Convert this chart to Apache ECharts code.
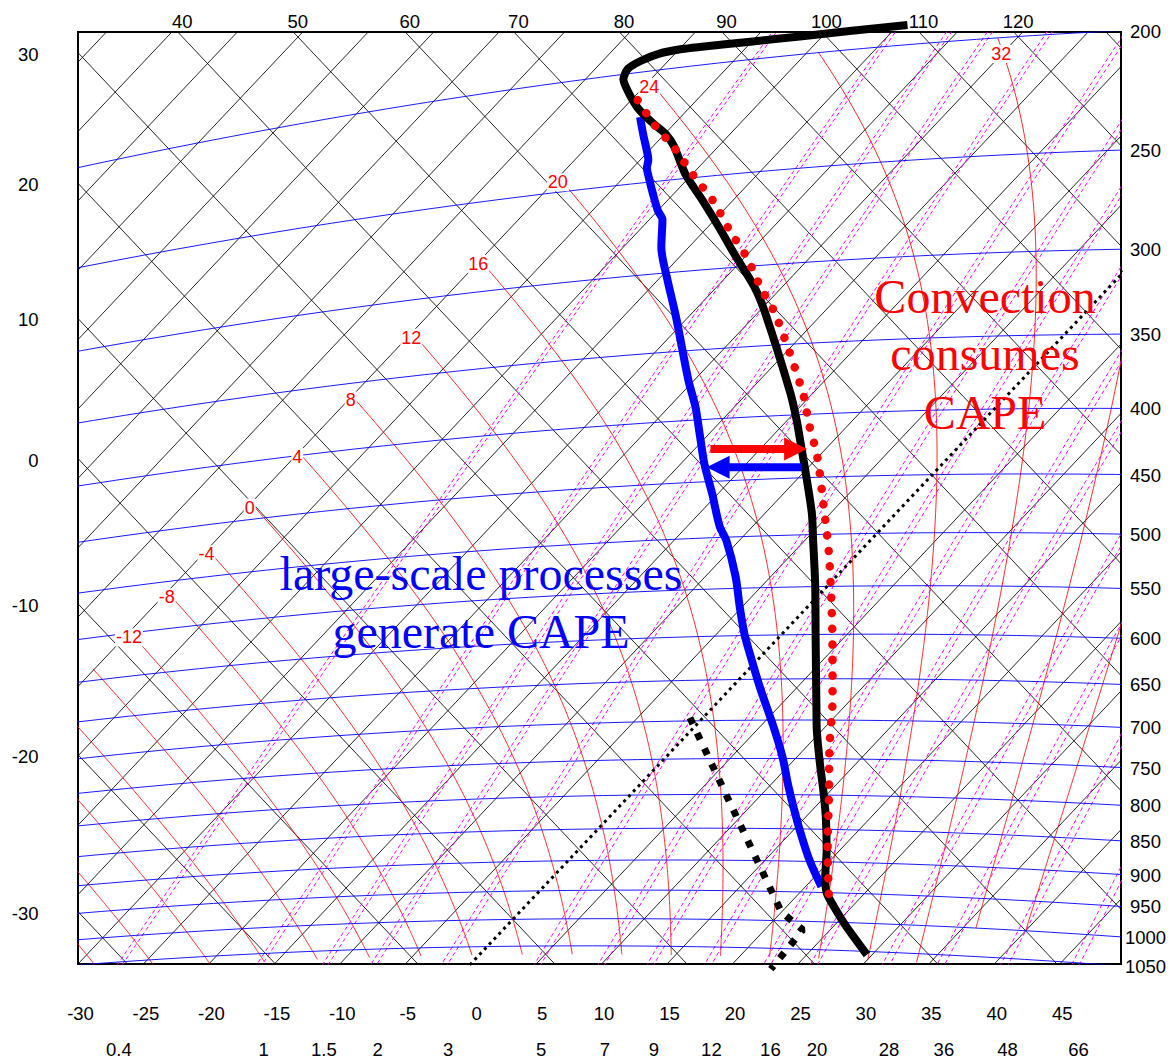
<!DOCTYPE html>
<html>
<head>
<meta charset="utf-8">
<title>Tephigram - CAPE</title>
<script src="https://cdn.jsdelivr.net/npm/echarts@6.0.0/dist/echarts.min.js"></script>
<style>
html,body{margin:0;padding:0;background:#ffffff;}
#chart{width:1172px;height:1060px;}
</style>
</head>
<body>
<div id="chart"></div>
<script>
// ===================== DATA =====================
// tephigram grid levels
const isothermLevels = [-100,-95,-90,-85,-80,-75,-70,-65,-60,-55,-50,-45,-40,-35,-30,-25,-20,-15,-10,-5,5,10,15,20,25,30,35,40,45,50]; // °C (0 °C drawn dotted)
const adiabatLevels = [-40,-30,-20,-10,0,10,20,30,40,50,60,70,80,90,100,110,120,130,140]; // potential temperature °C
const isobarLevels = [200,250,300,350,400,450,500,550,600,650,700,750,800,850,900,950,1000,1050]; // hPa
const mixingRatioLevels = [0.4,1,1.5,2,3,5,7,9,12,16,20,28,36,48,66]; // g/kg
const moistAdiabatLevels = [-40,-36,-32,-28,-24,-20,-16,-12,-8,-4,0,4,8,12,16,20,24,28,32,36,40]; // wet-bulb potential temperature °C

// tick labels
const leftThetaLabels = [-30,-20,-10,0,10,20,30];
const topThetaLabels = [40,50,60,70,80,90,100,110,120];
const bottomTempLabels = [-30,-25,-20,-15,-10,-5,0,5,10,15,20,25,30,35,40,45];
const pressureLabels = [200,250,300,350,400,450,500,550,600,650,700,750,800,850,900,950,1000,1050];
const mixingRatioLabels = [0.4,1,1.5,2,3,5,7,9,12,16,20,28,36,48,66];
const moistAdiabatLabels = [-12,-8,-4,0,4,8,12,16,20,24,32];

// sounding: environmental temperature (thick black)
const envP = [1056,1007,973,951,924,882,831,793,756,713,684,606,547,505,481,449,425,404,384,329,312,294,277,262,248,234,228,222,215,208,202,198,195.5,193.5,192.8,192.8,193,193,192.8,192.5];
const envT = [29.6,26.0,23.6,22.1,20.8,19.0,16.5,14.4,12.2,9.6,7.9,3.0,-1.1,-4.4,-6.4,-9.5,-12.0,-14.3,-16.7,-24.4,-27.2,-30.7,-34.1,-37.3,-40.5,-43.4,-44.9,-46.8,-48.9,-50.7,-52.1,-52.5,-52.1,-51.2,-49.8,-48.6,-45.1,-41.7,-38.3,-34.3];
// sounding: thick blue curve
const dewP = [940,898,852,817,784,748,708,659,616,598,569,538,503,490,460,435,411,390,370,327,304,285,270,265,256,247,243,239,235,227,219];
const dewT = [21.2,18.4,15.5,13.3,11.2,8.9,6.0,2.1,-1.4,-2.9,-5.2,-7.7,-11.0,-12.5,-15.5,-18.2,-20.7,-23.0,-25.5,-31.0,-34.3,-37.1,-39.0,-40.0,-41.6,-43.2,-43.9,-44.4,-45.1,-46.6,-48.1];
// red dotted parcel curve
const parcelP = [952,874,802,735,675,617,565,517,473,433,408,384,331,313,295,279,263,249,235,223,210];
const parcelT = [22.3,18.7,15.3,11.8,8.6,5.0,1.4,-2.3,-6.2,-10.1,-13.0,-15.8,-23.4,-26.6,-29.8,-33.1,-36.4,-39.8,-43.2,-46.5,-49.9];
// black square-dotted curve
const downP = [696,985,1015,1089];
const downT = [-1.0,20.0,22.9,23.3];
// dotted 0 °C isotherm
const zeroIsoP = [1200,250];
const zeroIsoT = [0,0];
// arrows (tail -> head)
const redArrowP = [423.3,426.3];
const redArrowT = [-18.8,-12.3];
const blueArrowP = [441.3,438.4];
const blueArrowT = [-10.5,-16.9];
// annotations
const convectionText = ['Convection','consumes','CAPE'];
const largeScaleText = ['large-scale processes','generate CAPE'];

// ===================== LAYOUT / TRANSFORM =====================
const SANS = '"Liberation Sans", Arial, Helvetica, sans-serif';
const SERIF = '"Liberation Serif", "Times New Roman", Times, serif';
const K = 280.7, KAPPA = 0.286;
const X_MIN = -66.43, X_MAX = 92.93, Y_MIN = -6.43, Y_MAX = 127.91;
const MR_PAIR = 1.035;

function tephi(T, p) {
  const th = (T + 273.15) * Math.pow(1000 / p, KAPPA);
  const L = K * Math.log(th / 273.15);
  return [T + L, L - T];
}
function tephiTh(T, thC) {
  const L = K * Math.log((thC + 273.15) / 273.15);
  return [T + L, L - T];
}
function esat(T) { return 6.112 * Math.exp(17.67 * T / (T + 243.5)); }
function tFromE(e) { const l = Math.log(e / 6.112); return 243.5 * l / (17.67 - l); }
function tMix(w, p) { return tFromE(p * w / (622 + w)); }
function dTdp(Tk, p) {
  const Rd = 287.04, Cp = 1005.7, Lv = 2.501e6, eps = 0.622;
  const rs = eps * esat(Tk - 273.15) / p;
  return (Rd * Tk + Lv * rs) / (Cp + Lv * Lv * rs * eps / (Rd * Tk * Tk)) / p;
}
function rk(Tk, p, h) {
  const k1 = dTdp(Tk, p), k2 = dTdp(Tk + h / 2 * k1, p + h / 2),
        k3 = dTdp(Tk + h / 2 * k2, p + h / 2), k4 = dTdp(Tk + h * k3, p + h);
  return Tk + h / 6 * (k1 + 2 * k2 + 2 * k3 + k4);
}
function moistLine(thw) {
  const pBottom = thw <= 34 ? 1065 : 1000;
  const up = [];
  let p = 1000, Tk = thw + 273.15;
  while (p > 200 && Tk > 223.15) { Tk = rk(Tk, p, -2); p -= 2; up.push([Tk, p]); }
  const down = [[thw + 273.15, 1000]];
  p = 1000; Tk = thw + 273.15;
  while (p < pBottom) { Tk = rk(Tk, p, 2); p += 2; down.push([Tk, p]); }
  return up.reverse().concat(down).map(a => tephi(a[0] - 273.15, a[1]));
}
function bisect(f, a, b) {
  let fa = f(a);
  for (let i = 0; i < 80; i++) {
    const m = (a + b) / 2, fm = f(m);
    if ((fm > 0) === (fa > 0)) { a = m; fa = fm; } else { b = m; }
  }
  return (a + b) / 2;
}

// ---- grid lines ----
const isoLines = isothermLevels.map(T => [tephiTh(T, -150), tephiTh(T, 260)]);
const adiLines = adiabatLevels.map(th => [tephiTh(-220, th), tephiTh(160, th)]);
const barLines = isobarLevels.map(p => { const a = []; for (let T = -140; T <= 70; T += 2) a.push(tephi(T, p)); return a; });
const mrLines = [];
mixingRatioLevels.forEach(w => {
  [w, w * MR_PAIR].forEach(ww => {
    const a = [];
    for (let p = 1150; p >= 100; p -= 10) a.push(tephi(tMix(ww, p), p));
    mrLines.push(a);
  });
});
const moistLines = moistAdiabatLevels.map(moistLine);

function polySeries(lines, lineStyle, z, clip, smooth) {
  const data = [];
  lines.forEach(l => { l.forEach(pt => data.push(pt)); data.push([NaN, NaN]); });
  return { type: 'line', data: data, symbol: 'none', showSymbol: false, silent: true, animation: false,
           z: z, clip: clip !== false, connectNulls: false, smooth: smooth || false, lineStyle: lineStyle };
}
function profile(P, T) { return P.map((p, i) => tephi(T[i], p)); }
function textSeries(items, style, z) {
  return {
    type: 'custom', coordinateSystem: 'cartesian2d', silent: true, animation: false, z: z, clip: false,
    data: items.map(it => [it.x, it.y]),
    renderItem: function (params, api) {
      const it = items[params.dataIndex];
      const pt = api.coord([it.x, it.y]);
      return { type: 'text', x: pt[0] + (it.dx || 0), y: pt[1] + (it.dy || 0),
               style: Object.assign({ text: it.text }, style) };
    }
  };
}

// ---- tick label positions ----
const leftItems = leftThetaLabels.map(th => {
  const L = K * Math.log((th + 273.15) / 273.15);
  return { x: X_MIN, y: 2 * L - X_MIN, text: String(th), dx: -39.5, dy: 1.5 };
});
const topItems = topThetaLabels.map(th => {
  const L = K * Math.log((th + 273.15) / 273.15);
  return { x: 2 * L - Y_MAX, y: Y_MAX, text: String(th), dx: 4.5, dy: -10.3 };
});
const bottomTItems = bottomTempLabels.map(T => {
  const s = String(T);
  return { x: 2 * T + Y_MIN, y: Y_MIN, text: s, dx: s.length === 1 ? 6 : 2.5, dy: 49.3 };
});
const rightItems = pressureLabels.map(p => {
  const T = bisect(t => tephi(t, p)[0] - X_MAX, -150, 100);
  const xy = tephi(T, p);
  return { x: xy[0], y: xy[1], text: String(p), dx: 24.5, dy: 0.5 };
});
const mrItems = mixingRatioLabels.map(w => {
  const p = bisect(pp => tephi(tMix(w, pp), pp)[1] - Y_MIN, 700, 1400);
  const xy = tephi(tMix(w, p), p);
  const s = String(w);
  return { x: xy[0], y: xy[1], text: s, dx: s.indexOf('.') >= 0 ? 1 : 6.5, dy: 85 };
});
const moistItems = [];
moistAdiabatLabels.forEach(v => {
  const line = moistLines[moistAdiabatLevels.indexOf(v)];
  const pt = line.find(q => q[1] <= Y_MAX - 1.75 && q[0] >= X_MIN + 1.5 && q[0] <= X_MAX);
  if (pt) moistItems.push({ x: pt[0], y: pt[1], text: String(v), dx: 0, dy: 6 });
});

const axisTextStyle = { fill: '#000', font: '18.5px ' + SANS, verticalAlign: 'middle' };

const series = [
  polySeries(isoLines, { color: '#000', width: 1, opacity: 0.85 }, 1),
  polySeries(adiLines, { color: '#000', width: 1, opacity: 0.85 }, 1),
  polySeries(moistLines, { color: '#ff0000', width: 1, opacity: 0.85 }, 1),
  polySeries(mrLines, { color: '#ff00ff', width: 1, type: [4, 3] }, 1),
  polySeries(barLines, { color: '#0000ff', width: 1, opacity: 0.9 }, 1),
  textSeries(leftItems, Object.assign({}, axisTextStyle, { align: 'right' }), 1),
  textSeries(topItems, Object.assign({}, axisTextStyle, { align: 'center' }), 1),
  textSeries(bottomTItems, Object.assign({}, axisTextStyle, { align: 'center' }), 1),
  textSeries(rightItems, Object.assign({}, axisTextStyle, { align: 'center' }), 1),
  textSeries(mrItems, Object.assign({}, axisTextStyle, { align: 'center' }), 1),
  textSeries(moistItems, { fill: '#ff0000', font: '18px ' + SANS, align: 'center', verticalAlign: 'middle',
                           backgroundColor: '#ffffff', padding: [0, 1, 0, 1] }, 2),
  polySeries([profile(zeroIsoP, zeroIsoT)], { color: '#000', width: 3, type: [3, 4] }, 3),
  polySeries([profile(downP, downT)], { color: '#000', width: 7, type: [7, 10], cap: 'butt' }, 4, false),
  polySeries([profile(dewP, dewT)], { color: '#0000ff', width: 8, join: 'round' }, 5, true, 0.3),
  polySeries([profile(envP, envT)], { color: '#000', width: 8, join: 'round' }, 6, false, 0.25),
  polySeries([profile(parcelP, parcelT)], { color: '#ff0000', width: 8.5, type: [0.1, 15.5], cap: 'round' }, 7, true, 0.3),
  {
    type: 'lines', coordinateSystem: 'cartesian2d', silent: true, animation: false, z: 8,
    symbol: ['none', 'triangle'], symbolSize: 23,
    lineStyle: { width: 8, opacity: 1, curveness: 0 },
    data: [
      { coords: profile(redArrowP, redArrowT), lineStyle: { color: '#ff0000', width: 8, opacity: 1 }, itemStyle: { color: '#ff0000' } },
      { coords: profile(blueArrowP, blueArrowT), lineStyle: { color: '#0000ff', width: 8, opacity: 1 }, itemStyle: { color: '#0000ff' } }
    ]
  }
];

function txt(text, x, y, color) {
  return { type: 'text', x: x, y: y, z: 100, silent: true,
           style: { text: text, fill: color, font: '48px ' + SERIF, align: 'center', verticalAlign: 'middle' } };
}

const chart = echarts.init(document.getElementById('chart'), null, { renderer: 'svg', width: 1172, height: 1060 });
chart.setOption({
  animation: false,
  backgroundColor: '#ffffff',
  grid: { left: 78, top: 32, width: 1043, height: 932, show: true, borderColor: '#000', borderWidth: 2, backgroundColor: '#ffffff' },
  xAxis: { type: 'value', min: X_MIN, max: X_MAX, show: false },
  yAxis: { type: 'value', min: Y_MIN, max: Y_MAX, show: false },
  series: series,
  graphic: [
    txt(convectionText[0], 985, 296.5, '#ff0000'),
    txt(convectionText[1], 985, 353.1, '#ff0000'),
    txt(convectionText[2], 985, 412.1, '#ff0000'),
    txt(largeScaleText[0], 481, 573.8, '#0000ff'),
    txt(largeScaleText[1], 481, 631.3, '#0000ff')
  ]
});
</script>
</body>
</html>
